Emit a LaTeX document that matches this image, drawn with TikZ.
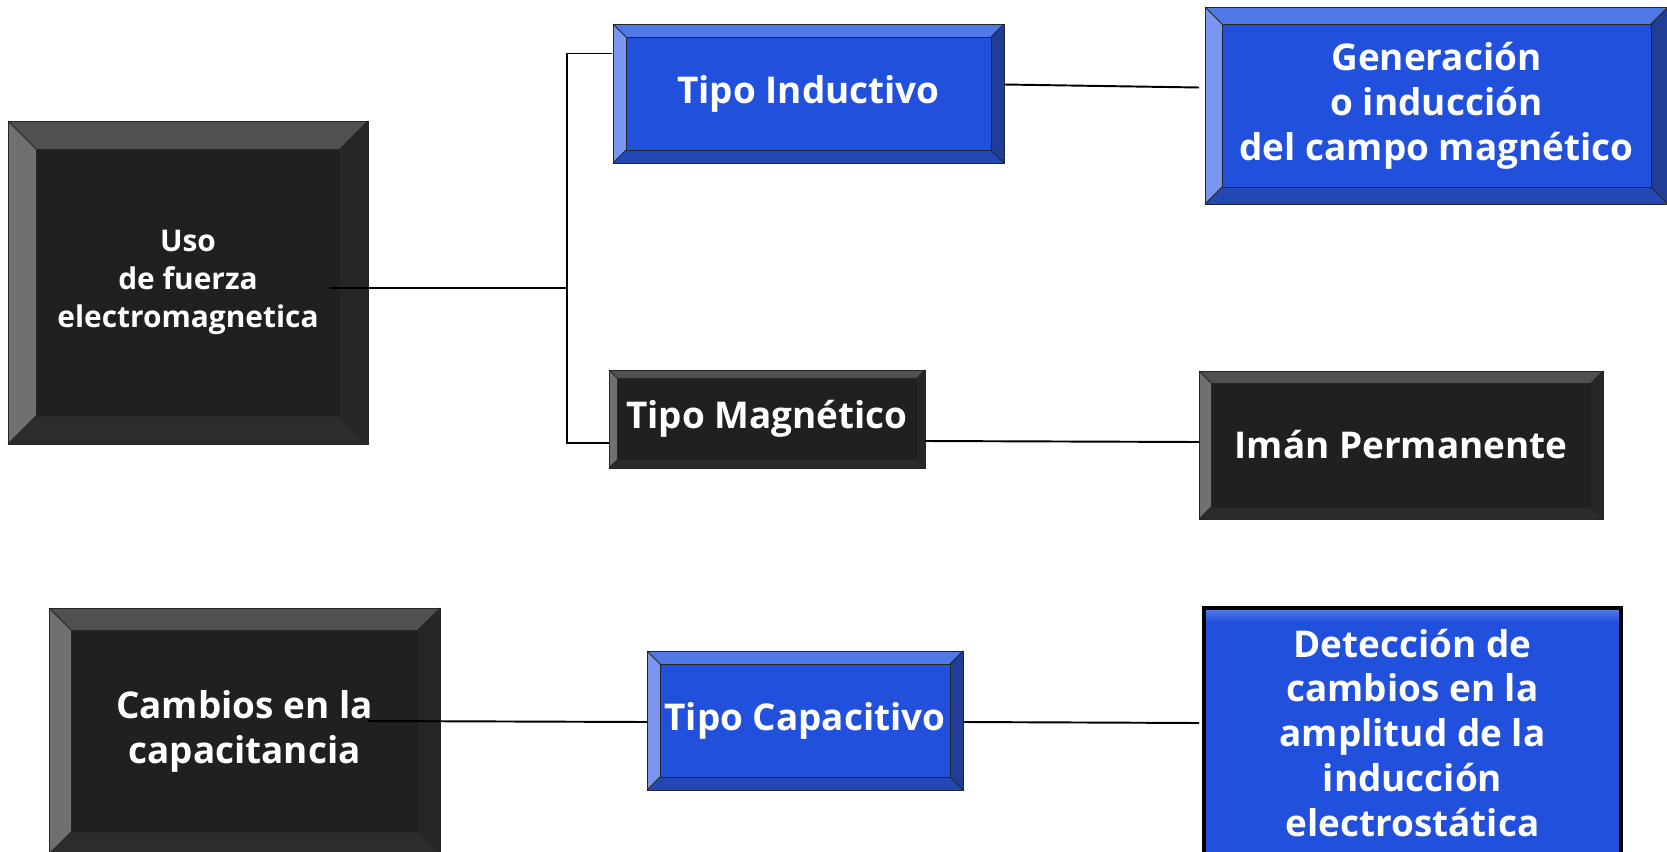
\documentclass[tikz,border=0pt]{standalone}
\usepackage{fontspec}
\usetikzlibrary{calc}
\newfontfamily\boxfont{Open Sans}

\definecolor{blkface}{RGB}{32,32,32}
\definecolor{blktop}{RGB}{80,80,80}
\definecolor{blkleft}{RGB}{112,112,112}
\definecolor{blkright}{RGB}{38,38,38}
\definecolor{blkbot}{RGB}{44,44,44}
\definecolor{bluface}{RGB}{33,80,220}
\definecolor{blutop}{RGB}{80,120,230}
\definecolor{bluleft}{RGB}{122,150,240}
\definecolor{bluright}{RGB}{33,62,150}
\definecolor{blubot}{RGB}{35,72,180}

\tikzset{
  edge/.style={line width=0.5pt, black!85},
  wire/.style={line width=1.1pt, black},
  boxtext/.style={text=white, align=center, inner sep=0pt, outer sep=0pt,
    font=\boxfont\bfseries\fontsize{21}{25.6}\selectfont}
}

% bevelled box: [text opts]{name}{x1}{y1}{x2}{y2}{bevel}{colour set}{text}
\newcommand{\bevelbox}[9][]{%
  \fill[#8face] (#3,#4) rectangle (#5,#6);
  \fill[#8top] (#3,#4) -- (#5,#4) -- (#5-#7,#4+#7) -- (#3+#7,#4+#7) -- cycle;
  \fill[#8left] (#3,#4) -- (#3+#7,#4+#7) -- (#3+#7,#6-#7) -- (#3,#6) -- cycle;
  \fill[#8right] (#5,#4) -- (#5,#6) -- (#5-#7,#6-#7) -- (#5-#7,#4+#7) -- cycle;
  \fill[#8bot] (#3,#6) -- (#5,#6) -- (#5-#7,#6-#7) -- (#3+#7,#6-#7) -- cycle;
  \draw[edge] (#3+#7,#4+#7) rectangle (#5-#7,#6-#7);
  \draw[edge] (#3,#4) -- (#3+#7,#4+#7) (#5,#4) -- (#5-#7,#4+#7)
              (#3,#6) -- (#3+#7,#6-#7) (#5,#6) -- (#5-#7,#6-#7);
  \draw[edge] (#3,#4) rectangle (#5,#6);
  \node[boxtext, minimum width={(#5-#3)*0.02cm}, minimum height={(#6-#4)*0.02cm}, #1]
    (#2) at ({(#3+#5)/2},{(#4+#6)/2}) {#9};
}

\begin{document}
\begin{tikzpicture}[x=0.02cm, y=-0.02cm]
\fill[white] (0,0) rectangle (1667,852);
\clip (0,0) rectangle (1667,852);

\bevelbox[font=\boxfont\bfseries\fontsize{17}{21.6}\selectfont]{uso}{8}{121}{368}{444}{28}{blk}{Uso\\de fuerza\\electromagnetica}
\bevelbox{inductivo}{613}{24}{1004}{163}{13}{blu}{Tipo Inductivo}
\bevelbox{generacion}{1205}{7}{1668}{204}{17}{blu}{Generación\\o inducción\\del campo magnético}
\bevelbox{magnetico}{609}{370}{925}{468}{8}{blk}{Tipo Magnético}
\bevelbox{iman}{1199}{371}{1603}{519}{12}{blk}{Imán Permanente}
\bevelbox{cambios}{49}{608}{440}{854}{22}{blk}{Cambios en la\\capacitancia}
\bevelbox{capacitivo}{647}{651}{963}{790}{13}{blu}{Tipo Capacitivo}

% flat box with heavy border
\fill[bluface] (1204,608) rectangle (1621,858);
\shade[top color=blutop, bottom color=bluface] (1206,610) rectangle (1619,622);
\draw[line width=1.8pt, black] (1204,608) rectangle (1621,858);
\node[boxtext, minimum width=8.34cm, minimum height=5cm] (deteccion) at (1412.5,733)
  {Detección de\\cambios en la\\amplitud de la\\inducción\\electrostática};

% connectors
\coordinate (usoout) at (330,288);
\coordinate (split) at (567,288);
\draw[wire] (usoout) -- (split);
\draw[wire] ($(inductivo.west)+(-1,-40)$) -| (split) |- ($(magnetico.west)+(0,24)$);
\draw[wire] ($(inductivo.east)+(0,-9)$) -- ($(generacion.west)+(-6,-18)$);
\draw[wire] ($(magnetico.east)+(0,22)$) -- ($(iman.west)+(0,-3)$);
\draw[wire] ($(cambios.east)+(-72,-10)$) -- ($(capacitivo.west)+(0,1.5)$);
\draw[wire] ($(capacitivo.east)+(0,1.5)$) -- ($(deteccion.west)+(-5,-10)$);
\end{tikzpicture}
\end{document}
